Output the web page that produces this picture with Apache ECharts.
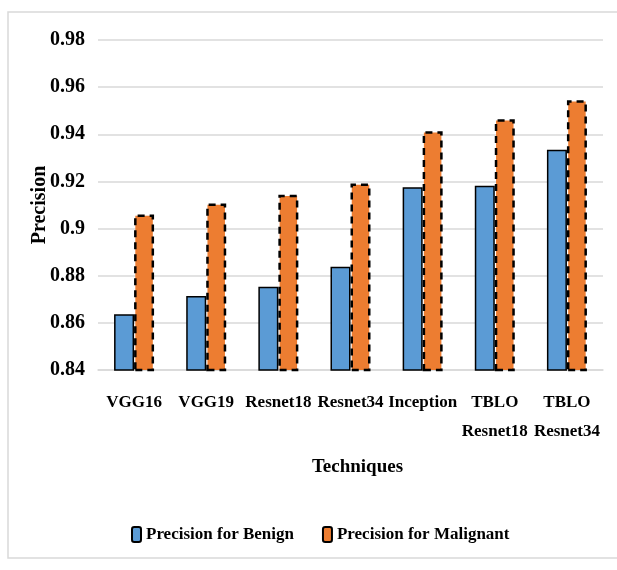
<!DOCTYPE html>
<html>
<head>
<meta charset="utf-8">
<script src="https://cdn.jsdelivr.net/npm/echarts@6/dist/echarts.min.js"></script>
<style>
  html, body { margin: 0; padding: 0; background: #fff; }
  #chart { width: 617px; height: 570px; }
</style>
</head>
<body>
<div id="chart"></div>
<script>
// data
var techniques = ['VGG16', 'VGG19', 'Resnet18', 'Resnet34', 'Inception', 'TBLO\nResnet18', 'TBLO\nResnet34'];
var benign = [0.8637, 0.8714, 0.8753, 0.8838, 0.9175, 0.9182, 0.9334];
var malignant = [0.9060, 0.9106, 0.9144, 0.9191, 0.9413, 0.9464, 0.9544];

var font = 'Liberation Serif';

var chart = echarts.init(document.getElementById('chart'));
chart.setOption({
    animation: false,
    textStyle: { fontFamily: font },
    graphic: [{
        type: 'rect',
        shape: { x: 8, y: 12, width: 620, height: 546 },
        style: { fill: 'none', stroke: '#d9d9d9', lineWidth: 1.5 },
        silent: true
    }],
    grid: { left: 98, right: 14, top: 40, bottom: 200 },
    legend: {
        bottom: 22,
        left: 126,
        itemWidth: 9,
        itemHeight: 15,
        itemGap: 28,
        textStyle: { fontFamily: font, fontSize: 17, fontWeight: 'bold', color: '#000' },
        data: ['Precision for Benign', 'Precision for Malignant']
    },
    xAxis: {
        type: 'category',
        data: techniques,
        name: 'Techniques',
        nameLocation: 'middle',
        nameGap: 88,
        nameMoveOverlap: false,
        nameTextStyle: { fontFamily: font, fontSize: 19, fontWeight: 'bold', color: '#000', padding: [0, 0, 0, 14] },
        axisTick: { show: false },
        axisLine: { lineStyle: { color: '#d9d9d9', width: 1.5 } },
        axisLabel: {
            interval: 0,
            margin: 18,
            lineHeight: 29,
            fontFamily: font, fontSize: 17, fontWeight: 'bold', color: '#000'
        }
    },
    yAxis: {
        type: 'value',
        min: 0.84,
        max: 0.98,
        interval: 0.02,
        name: 'Precision',
        nameLocation: 'middle',
        nameGap: 48,
        nameMoveOverlap: false,
        nameTextStyle: { fontFamily: font, fontSize: 20, fontWeight: 'bold', color: '#000' },
        axisLabel: {
            margin: 13,
            fontFamily: font, fontSize: 20, fontWeight: 'bold', color: '#000'
        },
        splitLine: { lineStyle: { color: '#d9d9d9', width: 1.5 } }
    },
    series: [
        {
            name: 'Precision for Benign',
            type: 'bar',
            data: benign,
            barWidth: 20,
            barGap: '0%',
            itemStyle: { color: '#5b9bd5', borderColor: '#000', borderWidth: 1.5 }
        },
        {
            name: 'Precision for Malignant',
            type: 'bar',
            data: malignant,
            barWidth: 20,
            barGap: '0%',
            itemStyle: { color: '#ed7d31', borderColor: '#000', borderWidth: 2.5, borderType: [7, 5] }
        }
    ]
});
</script>
</body>
</html>
